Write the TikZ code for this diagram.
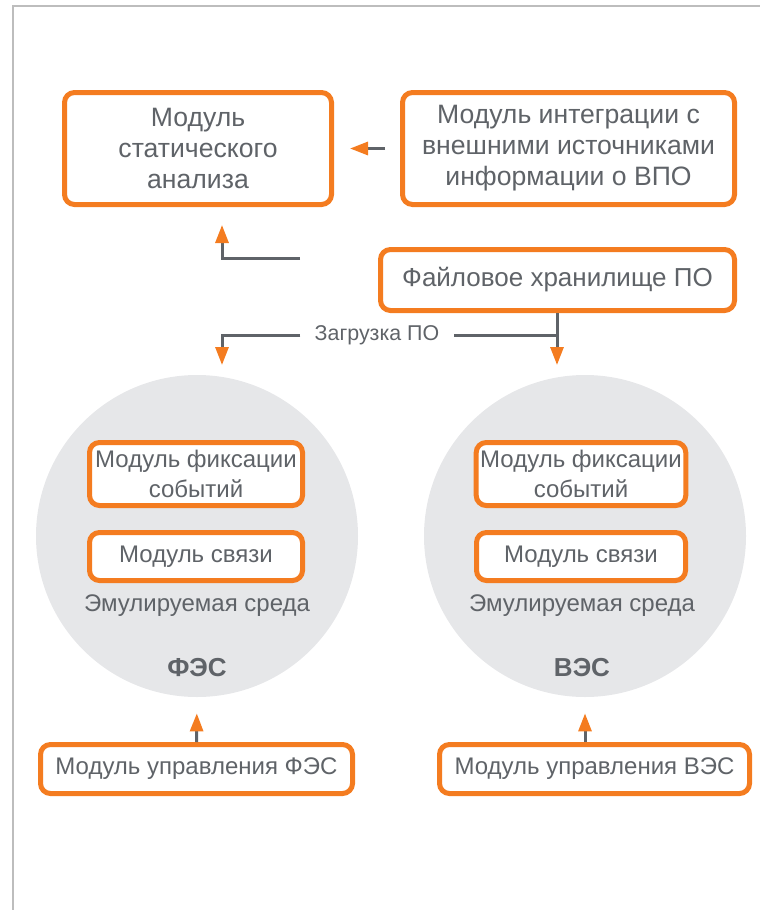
\documentclass[tikz,border=0pt]{standalone}
\usepackage{fontspec}
\setmainfont{Liberation Sans}
\usetikzlibrary{arrows.meta,calc,positioning}

\definecolor{brand}{HTML}{F47C20}
\definecolor{ink}{HTML}{5F6368}
\definecolor{disc}{HTML}{E6E7E9}
\definecolor{frame}{HTML}{BDBDBD}

\tikzset{
    module/.style={draw=brand, line width=2.5pt, rounded corners=5pt, fill=white,
        text=ink, align=center, inner sep=2pt, font=\fontsize{12}{15}\selectfont},
    bigmodule/.style={module, font=\fontsize{13.3}{15.5}\selectfont},
    env/.style={circle, fill=disc, minimum size=161pt, inner sep=0pt},
    link/.style={draw=ink, line width=1.5pt,
        -{Triangle[width=6.5pt,length=9pt,color=brand]}},
    plain/.style={draw=ink, line width=1.5pt},
    caption/.style={text=ink, font=\fontsize{12}{15}\selectfont},
}

\begin{document}
\begin{tikzpicture}[x=0.5pt, y=-0.5pt]
    \useasboundingbox (0,0) rectangle (760,910);
    \draw[frame, line width=1pt] (13,910) -- (13,6) -- (760,6);

    % upper row
    \node[bigmodule, minimum width=133.5pt, minimum height=56pt] (stat) at (198,148.5)
        {Модуль\\статического\\анализа};
    \node[bigmodule, minimum width=166pt, minimum height=56pt] (integ) at (568.5,148.5)
        {Модуль интеграции с\\внешними источниками\\информации о ВПО};
    \node[bigmodule, font=\fontsize{13}{15}\selectfont, minimum width=177pt, minimum height=30.5pt] (store) at (557.5,280)
        {Файловое хранилище ПО};

    % emulated environments
    \node[env] (circL) at (197,536) {};
    \node[env] (circR) at (585,536) {};
    \foreach \side/\cx/\w/\name in {L/196/106.5/ФЭС, R/581/104.5/ВЭС} {
        \node[module, minimum width=\w pt, minimum height=31.5pt] (fix\side) at (\cx,474)
            {Модуль фиксации\\событий};
        \node[module, minimum width=\w pt, minimum height=24pt] (sv\side) at (\cx,556.5)
            {Модуль связи};
        \node[caption] (emu\side) at (\cx+1,606) {Эмулируемая среда};
        \node[caption, font=\fontsize{13}{15}\selectfont\bfseries] (tag\side) at (\cx+1,668) {\name};
    }

    % control modules
    \node[module, minimum width=156pt, minimum height=24.5pt] (ctlL) at (196.5,769)
        {Модуль управления ФЭС};
    \node[module, minimum width=155pt, minimum height=24.5pt] (ctlR) at (594.5,769)
        {Модуль управления ВЭС};

    % connectors
    \draw[link, shorten <=7.5pt, shorten >=8pt] (integ.west) -- (stat.east);
    \coordinate (upfrom) at (300,258);
    \coordinate (upto) at (222,207);
    \draw[link, shorten >=9pt] (upfrom) -| (upto);

    \node[caption, font=\fontsize{10.7}{12}\selectfont, inner xsep=7pt] (load) at (377,335) {Загрузка ПО};
    \coordinate (fork) at (557,335);
    \coordinate (loadL) at (222,365);
    \coordinate (loadR) at (557,365);
    \draw[link] (store.south -| fork) -- (loadR);
    \draw[plain] (fork) -- (load.east);
    \draw[link] (load.west) -| (loadL);

    \draw[link, shorten >=8pt] (ctlL.north) -- (circL.south);
    \draw[link, shorten >=8pt] (ctlR.north -| circR.south) -- (circR.south);
\end{tikzpicture}
\end{document}
